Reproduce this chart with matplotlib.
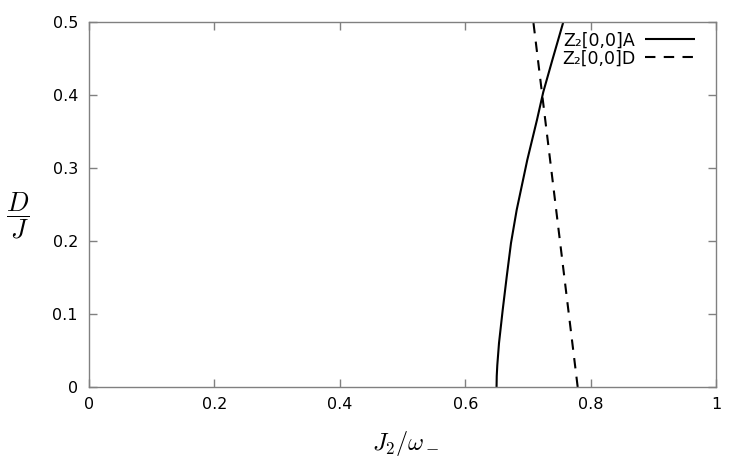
import matplotlib
matplotlib.use("Agg")
import matplotlib.pyplot as plt

# Data
A_J2 = [0.650, 0.6503, 0.6512, 0.6539, 0.6598, 0.6662, 0.6730, 0.6821, 0.6990, 0.7145, 0.7245, 0.7390, 0.7565]
A_D = [0.0, 0.015, 0.03, 0.060, 0.1055, 0.151, 0.197, 0.2425, 0.311, 0.366, 0.404, 0.448, 0.5]
D_J2 = [0.7794, 0.7087]
D_D = [0.0, 0.5]
x_ticks = [0, 0.2, 0.4, 0.6, 0.8, 1]
x_tick_labels = ["0", "0.2", "0.4", "0.6", "0.8", "1"]
y_ticks = [0, 0.1, 0.2, 0.3, 0.4, 0.5]
y_tick_labels = ["0", "0.1", "0.2", "0.3", "0.4", "0.5"]
series_labels = ["Z\u2082[0,0]A", "Z\u2082[0,0]D"]

plt.rcParams['mathtext.fontset'] = 'dejavusans'
plt.rcParams['font.family'] = ['DejaVu Sans']

fig = plt.figure(figsize=(7.47, 4.63), dpi=100)
ax = fig.add_axes([89/747, 1 - 387/463, (716-89)/747, (387-22)/463])

ax.plot(A_J2, A_D, color='black', lw=1.5, solid_capstyle='butt', solid_joinstyle='round',
        label=series_labels[0])
ax.plot(D_J2, D_D, color='black', lw=1.5, linestyle=(0, (5, 4)), label=series_labels[1])

ax.set_xlim(0, 1)
ax.set_ylim(0, 0.5)
ax.set_xticks(x_ticks)
ax.set_xticklabels(x_tick_labels)
ax.set_yticks(y_ticks)
ax.set_yticklabels(y_tick_labels)

grey = '#808080'
for s in ax.spines.values():
    s.set_color(grey)
    s.set_linewidth(1.0)
ax.tick_params(direction='in', length=6, width=1.0, color=grey, labelsize=11.5,
               top=True, right=True, labelcolor='black')
ax.tick_params(axis='x', pad=7)
ax.tick_params(axis='y', pad=8)

leg = ax.legend(loc='upper right', bbox_to_anchor=(0.978, 0.993), frameon=False,
                markerfirst=False, prop={'size': 12.5}, handlelength=2.9, handletextpad=0.57,
                borderaxespad=0.0, labelspacing=0.0, alignment='right')

fig.text(406/747, 1 - 443/463, r'$J_2/\omega_-$', fontsize=17.5, ha='center', va='center',
         math_fontfamily='cm')
fig.text(18/747, 1 - 216/463, r'$\dfrac{D}{J}$', fontsize=19, ha='center', va='center',
         math_fontfamily='cm')

fig.savefig('out.png', dpi=100)
